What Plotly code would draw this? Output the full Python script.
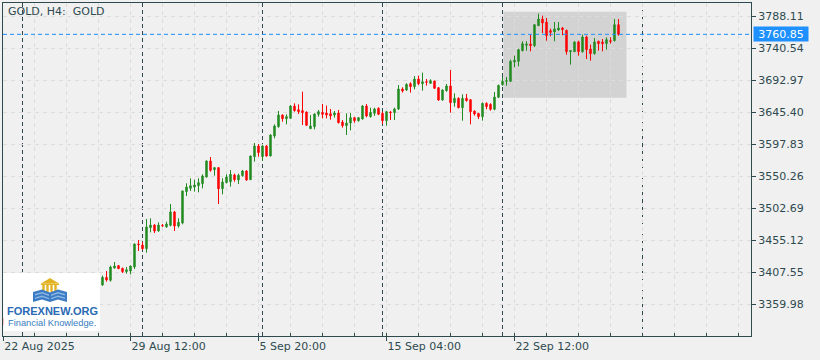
import plotly.graph_objects as go

# ---------------- data ----------------
opens = [3339.0, 3329.0, 3334.0, 3352.0, 3372.0, 3371.0, 3366.0, 3369.0, 3363.0, 3367.0,
         3365.0, 3364.0, 3375.0, 3385.0, 3383.0, 3390.0, 3386.0, 3393.0, 3384.0, 3387.0,
         3385.0, 3390.0, 3396.0, 3394.0, 3389.0, 3388.2, 3399.6, 3395.2, 3413.5, 3417.0,
         3413.0, 3408.1, 3409.0, 3415.0, 3449.2, 3447.7, 3442.2, 3473.5, 3477.4, 3468.5,
         3476.9, 3474.5, 3476.9, 3496.8, 3475.9, 3480.4, 3527.0, 3531.9, 3533.9, 3535.9,
         3538.9, 3548.8, 3572.6, 3559.7, 3562.7, 3531.4, 3540.4, 3541.8, 3551.8, 3544.3,
         3550.8, 3557.7, 3544.8, 3579.0, 3594.9, 3579.0, 3594.9, 3580.0, 3609.7, 3623.6,
         3640.95, 3635.5, 3636.0, 3654.3, 3648.9, 3647.4, 3645.4, 3620.6, 3623.6, 3641.9,
         3644.9, 3643.9, 3642.9, 3640.95, 3643.9, 3630.5, 3625.1, 3629.0, 3637.0, 3632.5,
         3635.0, 3654.3, 3638.5, 3643.4, 3650.9, 3643.4, 3632.5, 3645.4, 3644.4, 3649.9,
         3679.6, 3678.1, 3687.5, 3683.1, 3694.5, 3687.5, 3690.5, 3688.0, 3691.5, 3681.6,
         3663.2, 3677.1, 3684.1, 3659.3, 3665.7, 3651.8, 3665.7, 3663.7, 3646.9, 3643.4,
         3638.5, 3658.3, 3656.8, 3649.4, 3667.2, 3686.0, 3691.0, 3691.0, 3719.7, 3720.7,
         3736.6, 3744.5, 3746.5, 3744.0, 3773.7, 3783.6, 3779.2, 3766.3, 3764.3, 3767.3,
         3770.3, 3766.8, 3735.1, 3735.1, 3749.5, 3735.1, 3756.9, 3739.1, 3732.1, 3750.5,
         3749.5, 3747.0, 3751.4, 3751.4, 3775.2]
highs = [3341.0, 3336.0, 3356.0, 3379.0, 3375.0, 3374.0, 3371.0, 3373.0, 3370.0, 3372.0,
         3369.0, 3378.0, 3388.0, 3392.0, 3392.0, 3394.0, 3395.0, 3396.0, 3390.0, 3392.0,
         3393.0, 3399.0, 3398.0, 3397.0, 3395.0, 3402.1, 3409.0, 3417.0, 3422.4, 3418.0,
         3414.0, 3415.0, 3417.0, 3449.7, 3455.1, 3452.6, 3486.3, 3487.3, 3478.4, 3481.4,
         3478.9, 3482.4, 3508.6, 3498.2, 3487.3, 3528.5, 3539.4, 3546.8, 3544.8, 3546.8,
         3552.7, 3573.1, 3578.5, 3563.6, 3563.1, 3546.8, 3552.7, 3559.2, 3553.7, 3553.7,
         3559.2, 3558.7, 3580.5, 3599.3, 3597.8, 3596.4, 3596.4, 3612.2, 3627.0, 3646.9,
         3641.5, 3641.9, 3655.8, 3658.3, 3656.8, 3675.6, 3646.0, 3640.95, 3643.4, 3648.4,
         3657.3, 3654.8, 3649.9, 3646.9, 3648.4, 3633.5, 3643.4, 3643.9, 3638.0, 3638.0,
         3655.8, 3657.3, 3651.8, 3651.8, 3652.3, 3645.9, 3646.9, 3646.9, 3651.8, 3685.5,
         3682.1, 3688.0, 3689.5, 3698.9, 3699.4, 3703.9, 3694.5, 3694.0, 3692.0, 3682.6,
         3679.1, 3687.0, 3707.8, 3673.2, 3667.2, 3671.7, 3672.2, 3664.7, 3647.4, 3644.0,
         3659.3, 3659.8, 3658.3, 3675.1, 3686.0, 3697.4, 3697.4, 3723.2, 3729.1, 3739.5,
         3750.5, 3750.5, 3760.4, 3775.7, 3791.6, 3788.6, 3785.1, 3769.3, 3779.2, 3779.2,
         3771.8, 3767.8, 3737.0, 3750.5, 3751.4, 3760.4, 3758.9, 3745.5, 3755.4, 3751.4,
         3753.9, 3756.4, 3756.4, 3783.6, 3783.6]
lows = [3327.0, 3325.0, 3332.0, 3350.0, 3366.0, 3364.0, 3362.0, 3360.0, 3358.0, 3362.0,
        3361.0, 3363.0, 3372.0, 3380.0, 3376.0, 3382.0, 3384.0, 3380.0, 3378.0, 3383.0,
        3381.0, 3386.0, 3388.0, 3385.0, 3383.0, 3387.2, 3393.2, 3393.2, 3412.5, 3412.0,
        3406.1, 3405.1, 3404.1, 3412.0, 3438.8, 3440.3, 3436.3, 3466.5, 3465.5, 3467.5,
        3474.5, 3473.5, 3475.4, 3468.5, 3473.5, 3478.4, 3520.5, 3528.0, 3527.0, 3526.0,
        3531.9, 3547.8, 3556.7, 3550.8, 3508.6, 3523.0, 3539.4, 3534.4, 3541.8, 3538.4,
        3549.3, 3543.3, 3544.3, 3571.6, 3579.0, 3572.6, 3579.0, 3579.5, 3606.3, 3622.1,
        3631.0, 3627.0, 3635.5, 3645.9, 3642.4, 3626.1, 3625.0, 3620.1, 3619.6, 3638.5,
        3636.0, 3636.0, 3634.0, 3637.0, 3628.5, 3622.1, 3611.2, 3618.1, 3629.5, 3631.0,
        3634.5, 3637.5, 3637.0, 3639.5, 3640.95, 3627.6, 3625.1, 3633.5, 3633.5, 3648.4,
        3674.2, 3676.6, 3674.2, 3679.1, 3685.5, 3677.1, 3684.5, 3687.0, 3679.6, 3662.2,
        3662.2, 3675.6, 3644.4, 3653.3, 3650.9, 3632.5, 3660.8, 3627.1, 3640.0, 3635.0,
        3632.5, 3649.4, 3647.4, 3648.0, 3666.2, 3684.5, 3684.5, 3690.0, 3711.8, 3713.3,
        3735.6, 3736.6, 3735.6, 3742.0, 3773.2, 3762.8, 3751.4, 3757.9, 3750.5, 3766.3,
        3759.4, 3730.6, 3715.8, 3734.6, 3729.1, 3733.6, 3724.2, 3721.7, 3730.6, 3736.6,
        3735.6, 3738.1, 3747.0, 3750.5, 3758.9]
closes = [3329.0, 3334.0, 3352.0, 3372.0, 3371.0, 3366.0, 3369.0, 3363.0, 3367.0, 3365.0,
          3364.0, 3375.0, 3385.0, 3383.0, 3390.0, 3386.0, 3393.0, 3384.0, 3387.0, 3385.0,
          3390.0, 3396.0, 3394.0, 3389.0, 3388.0, 3399.6, 3395.7, 3415.0, 3416.5, 3412.5,
          3408.1, 3411.0, 3416.5, 3449.2, 3448.2, 3442.2, 3474.5, 3477.4, 3468.5, 3477.4,
          3476.4, 3478.9, 3496.8, 3475.9, 3481.4, 3528.0, 3533.9, 3535.9, 3536.9, 3540.4,
          3550.3, 3572.6, 3558.7, 3562.7, 3531.4, 3541.3, 3548.8, 3552.8, 3544.8, 3551.3,
          3557.7, 3544.3, 3580.0, 3594.9, 3585.0, 3594.9, 3580.0, 3611.2, 3624.6, 3640.95,
          3635.5, 3638.5, 3654.3, 3647.4, 3645.9, 3644.4, 3625.6, 3624.6, 3642.4, 3645.9,
          3641.9, 3640.95, 3639.5, 3643.9, 3629.5, 3625.1, 3629.0, 3637.0, 3632.5, 3637.0,
          3654.3, 3639.5, 3644.9, 3649.9, 3641.9, 3632.5, 3645.9, 3644.4, 3649.9, 3679.6,
          3676.6, 3686.5, 3683.1, 3694.5, 3687.5, 3690.5, 3689.5, 3692.0, 3680.6, 3663.2,
          3678.1, 3684.1, 3659.3, 3665.7, 3651.8, 3665.7, 3662.3, 3645.9, 3642.4, 3638.5,
          3658.3, 3653.3, 3649.4, 3667.7, 3685.0, 3691.0, 3692.0, 3720.7, 3722.2, 3738.1,
          3747.0, 3746.5, 3744.0, 3775.2, 3783.6, 3777.7, 3758.9, 3763.8, 3768.8, 3770.3,
          3767.8, 3735.1, 3736.6, 3749.5, 3735.1, 3756.9, 3738.1, 3732.1, 3749.5, 3747.0,
          3747.0, 3752.9, 3750.5, 3775.2, 3760.85]
bar_index = list(range(len(opens)))

date_tick_index = [0, 32, 64, 96, 128]
date_tick_labels = ["22 Aug 2025", "29 Aug 12:00", "5 Sep 20:00", "15 Sep 04:00", "22 Sep 12:00"]
price_ticks = [3359.98, 3407.55, 3455.12, 3502.69, 3550.26, 3597.83, 3645.40, 3692.97, 3740.54, 3788.11]
week_separators = [5, 35, 65, 95, 125, 160]
last_price = 3760.85
zone_bars = [125.2, 156.0]
zone_prices = [3666.7, 3794.5]
chart_title = "GOLD, H4:\u00a0 GOLD"

# ---------------- layout helpers ----------------
W, H = 820, 360
ML, MR, MT, MB = 3, 69, 3, 24
PW, PH = W - ML - MR, H - MT - MB
X_RANGE = [0.125, 0.125 + PW / 4.0]
Y_RANGE = [3312.41, 3807.43]

def pxx(x):
    return (x - ML) / PW

def pxy(y):
    return (H - MB - y) / PH

DARK = "#2e4a4f"
GRID = "#dcdcdc"
BG = "#f0f0f0"
GREEN = "#228b22"
RED = "#ff0000"
BLUE = "#1e90ff"
FONT = "DejaVu Sans"

# first date label is pinned to the left edge of the visible window (MT4 style)
x_tickvals = [max(v, X_RANGE[0] + 0.05) for v in date_tick_index]

fig = go.Figure(go.Candlestick(
    x=bar_index, open=opens, high=highs, low=lows, close=closes,
    increasing=dict(line=dict(color=GREEN, width=1), fillcolor=GREEN),
    decreasing=dict(line=dict(color=RED, width=1), fillcolor=RED),
    whiskerwidth=0, hoverinfo="skip", showlegend=False,
))

shapes = []
shapes.append(dict(type="rect", xref="x", yref="y", x0=zone_bars[0], x1=zone_bars[1],
                   y0=zone_prices[0], y1=zone_prices[1], fillcolor="#d3d3d3",
                   line=dict(width=0), layer="below"))
for ws in week_separators:
    shapes.append(dict(type="line", xref="x", yref="paper", x0=ws, x1=ws, y0=0, y1=1,
                       line=dict(color=DARK, width=1, dash="4px,3px"), layer="between"))
shapes.append(dict(type="line", xref="paper", yref="y", x0=0, x1=1, y0=last_price, y1=last_price,
                   line=dict(color=BLUE, width=1, dash="4px,3px"), layer="above"))

def prect(x0, y0, x1, y1, color, layer="above"):
    return dict(type="rect", xref="paper", yref="paper", x0=pxx(x0), x1=pxx(x1),
                y0=pxy(y1), y1=pxy(y0), fillcolor=color, line=dict(width=0), layer=layer)

def ppath(points, color):
    d = "M " + " L ".join(f"{pxx(a):.5f},{pxy(b):.5f}" for a, b in points) + " Z"
    return dict(type="path", xref="paper", yref="paper", path=d, fillcolor=color,
                line=dict(width=0), layer="above")

shapes.append(prect(3.3, 273, 100, 331, "white"))
GOLD = "#e2b424"
shapes.append(ppath([(41, 283.5), (50, 278), (59, 283.5)], GOLD))
shapes.append(prect(41, 283.5, 59, 285, GOLD))
for cx in [43.5, 47.5, 51.5, 55.5]:
    shapes.append(prect(cx - 1.2, 285, cx + 1.2, 292, GOLD))
BOOK = "#3d7cc4"
BOOK2 = "#8bb8e6"
shapes.append(ppath([(33, 292), (42, 289.5), (50, 292.5), (50, 302), (42, 299.5), (33, 302)], BOOK))
shapes.append(ppath([(50, 292.5), (58, 289.5), (67, 292), (67, 302), (58, 299.5), (50, 302)], BOOK))
shapes.append(ppath([(35, 294), (42, 292), (49, 294.5), (49, 296), (42, 293.5), (35, 295.5)], BOOK2))
shapes.append(ppath([(51, 294.5), (58, 292), (65, 294), (65, 295.5), (58, 293.5), (51, 296)], BOOK2))
shapes.append(ppath([(35, 297.5), (42, 295.5), (49, 298), (49, 299.2), (42, 297), (35, 299)], BOOK2))
shapes.append(ppath([(51, 298), (58, 295.5), (65, 297.5), (65, 299), (58, 297), (51, 299.2)], BOOK2))

annotations = [
    dict(xref="paper", yref="paper", x=pxx(6), y=pxy(12), xanchor="left", yanchor="middle",
         text=chart_title, showarrow=False, font=dict(family=FONT, size=11, color=DARK)),
    dict(xref="paper", yref="y", x=1, y=last_price, xanchor="left", yanchor="middle", xshift=2,
         text=f"{last_price:.2f}", showarrow=False, bgcolor=BLUE, borderpad=0,
         width=54, height=14, align="center",
         font=dict(family=FONT, size=11, color="white")),
    dict(xref="paper", yref="paper", x=pxx(52.5), y=pxy(311), xanchor="center", yanchor="middle",
         text="<b>FOREXNEW.ORG</b>", showarrow=False,
         font=dict(family="Liberation Sans", size=11, color="#2a6ab4")),
    dict(xref="paper", yref="paper", x=pxx(52), y=pxy(322.5), xanchor="center", yanchor="middle",
         text="Financial Knowledge.", showarrow=False,
         font=dict(family="Liberation Sans", size=9.3, color="#3a7cc0")),
]

fig.update_layout(
    width=W, height=H, autosize=False,
    margin=dict(l=ML, r=MR, t=MT, b=MB, pad=0),
    paper_bgcolor=BG, plot_bgcolor=BG,
    font=dict(family=FONT, size=11, color=DARK),
    boxgap=0.5,
    shapes=shapes, annotations=annotations,
    xaxis=dict(
        range=X_RANGE, rangeslider=dict(visible=False), fixedrange=True,
        tickmode="array", tickvals=x_tickvals, ticktext=date_tick_labels,
        ticks="outside", ticklen=4, tickcolor=DARK, ticklabelposition="outside right",
        showline=True, linecolor=DARK, linewidth=1, mirror=True,
        showgrid=True, gridcolor=GRID, griddash="4px,4px", gridwidth=1, zeroline=False,
        tickfont=dict(family=FONT, size=11, color=DARK),
        minor=dict(tickmode="linear", tick0=0, dtick=8, ticks="inside", ticklen=3,
                   tickcolor=DARK, showgrid=True, gridcolor=GRID, griddash="4px,4px"),
    ),
    yaxis=dict(
        range=Y_RANGE, side="right", fixedrange=True,
        tickmode="array", tickvals=price_ticks, ticktext=[f"{v:.2f}" for v in price_ticks],
        ticks="outside", ticklen=4, tickcolor=DARK,
        showline=True, linecolor=DARK, linewidth=1, mirror=True,
        showgrid=True, gridcolor=GRID, griddash="4px,4px", gridwidth=1, zeroline=False,
        tickfont=dict(family=FONT, size=11, color=DARK),
    ),
)

fig.write_html("out.html", config={"displayModeBar": False, "staticPlot": True})
